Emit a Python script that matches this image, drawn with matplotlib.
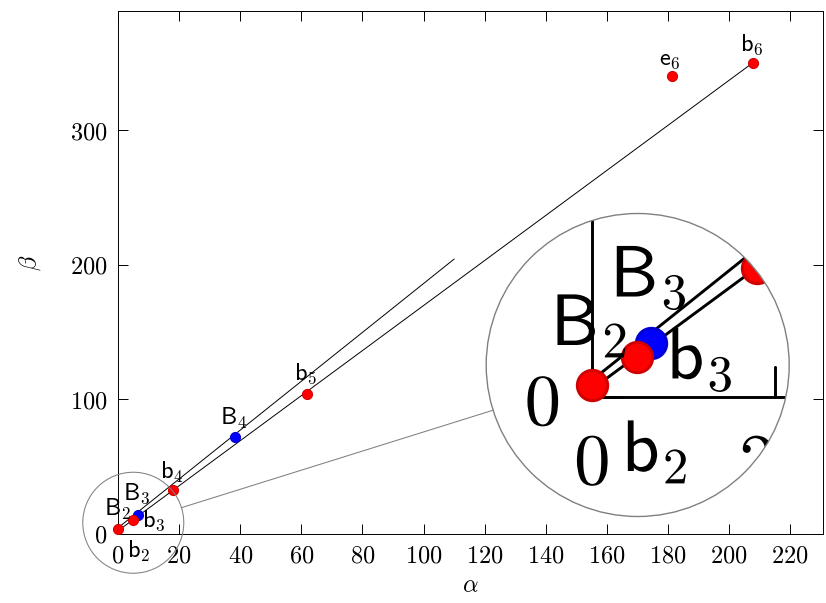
import matplotlib.pyplot as plt
import matplotlib.patheffects as pe
from matplotlib.patches import Circle
from matplotlib.lines import Line2D
from matplotlib.ticker import FuncFormatter

plt.rcParams['mathtext.fontset'] = 'cm'
plt.rcParams['font.family'] = 'serif'
plt.rcParams['font.serif'] = ['DejaVu Serif']

# points
red_x = [0, 4.9, 18, 61.8, 181.3, 207.8]
red_y = [3, 10, 32, 104, 340, 350]
blue_x = [6.4, 38.3]
blue_y = [13.5, 72]

# the two straight lines from the origin point
upper_x = [0, 110]
upper_y = [4.2, 204]
lower_x = [0, 207.8]
lower_y = [2, 350]

# point labels: text, anchor (x, y), offset in px (dx, dy up)
label_text = [r'$\mathsf{B}_2$', r'$\mathsf{b}_2$', r'$\mathsf{B}_3$', r'$\mathsf{b}_3$',
              r'$\mathsf{b}_4$', r'$\mathsf{B}_4$', r'$\mathsf{b}_5$', r'$\mathsf{e}_6$',
              r'$\mathsf{b}_6$']
label_x = [0, 0, 6.4, 4.9, 18, 38.3, 61.8, 181.3, 207.8]
label_y = [3, 3, 13.5, 10, 32, 72, 104, 340, 350]
label_dx = [-1, 21, -0.7, 21, -1.3, -1, -0.7, -1.7, -1.2]
label_dy = [20, -22, 21.8, -0.8, 18.5, 18.7, 20, 16.7, 17.7]

x_ticks = [0, 20, 40, 60, 80, 100, 120, 140, 160, 180, 200, 220]
y_ticks = [0, 100, 200, 300]

W, H, DPI = 826, 603, 100
PX = 72 / DPI  # points per pixel

spy_at = (5, 8)          # data point that gets magnified
spy_r = 50.5             # px
lens_c = (637.7, 365)    # px, from the top
lens_r = 151.5
mag = lens_r / spy_r


def draw(ax, s):
    lw = 0.7 * s
    fs = 17.5 * s
    arts = []
    arts += ax.plot(upper_x, upper_y, color='black', lw=lw, zorder=2)
    arts += ax.plot(lower_x, lower_y, color='black', lw=lw, zorder=2)
    arts += ax.plot(blue_x, blue_y, 'o', ms=7.3 * s, mfc='#0000ff', mec='#0000d0', mew=lw,
                    zorder=3, clip_on=False)
    arts += ax.plot(red_x, red_y, 'o', ms=7.3 * s, mfc='#ff0000', mec='#d00000', mew=lw,
                    zorder=3, clip_on=False)
    for t, x, y, dx, dy in zip(label_text, label_x, label_y, label_dx, label_dy):
        arts.append(ax.annotate(t, (x, y), xytext=(dx * PX * s, dy * PX * s),
                                textcoords='offset points', ha='center', va='center',
                                fontsize=fs, zorder=4))
    ax.set_xlim(0, 230.6)
    ax.set_ylim(0, 388.5)
    ax.set_xticks(x_ticks)
    ax.set_yticks(y_ticks)
    fmt = FuncFormatter(lambda v, p: f'${v:g}$')
    ax.xaxis.set_major_formatter(fmt)
    ax.yaxis.set_major_formatter(fmt)
    ax.tick_params(direction='in', length=7.4 * s, width=lw, pad=7.6 * s, labelsize=fs,
                   top=True, right=True)
    for sp in ax.spines.values():
        sp.set_linewidth(lw)
        arts.append(sp)
    return arts


fig = plt.figure(figsize=(W / DPI, H / DPI), dpi=DPI, facecolor='white')
ax = fig.add_axes([118 / W, 1 - 533.5 / H, (822.5 - 118) / W, (533.5 - 11) / H])
draw(ax, 1)
ax.set_xlabel(r'$\alpha$', fontsize=17.5, va='center')
ax.xaxis.set_label_coords(0.5, -0.1)
ax.set_ylabel(r'$\beta$', fontsize=17.5, va='center')
ax.yaxis.set_label_coords(-0.125, 0.517)

# spy: magnified copy of the region around spy_at
cx, cy = ax.transData.transform(spy_at)
bx, by = lens_c[0], H - lens_c[1]
x0, y0, x1, y1 = 118, H - 533.5, 822.5, H - 11
ix0, ix1 = bx + mag * (x0 - cx), bx + mag * (x1 - cx)
iy0, iy1 = by + mag * (y0 - cy), by + mag * (y1 - cy)

tr = fig.dpi_scale_trans
disk = Circle((bx / DPI, by / DPI), lens_r / DPI, transform=tr, facecolor='white',
              edgecolor='none', zorder=1)
fig.add_artist(disk)

ins = fig.add_axes([ix0 / W, iy0 / H, (ix1 - ix0) / W, (iy1 - iy0) / H], zorder=2)
clip = Circle((bx / DPI, by / DPI), lens_r / DPI, transform=tr)
arts = draw(ins, mag)
arts.append(ins.patch)
for axis in (ins.xaxis, ins.yaxis):
    for tk in axis.get_major_ticks():
        arts += [tk.tick1line, tk.tick2line, tk.label1, tk.label2]
for a in arts:
    a.set_clip_box(None)
    a.set_clip_path(clip)
    a.set_clip_on(True)
    if hasattr(a, 'get_text'):
        a.set_path_effects([pe.Normal()])

# texts of the magnified copy that fall fully outside the lens are hidden
fig.canvas.draw()
rend = fig.canvas.get_renderer()
for a in arts:
    if hasattr(a, 'get_text') and a.get_visible():
        bb = a.get_window_extent(rend)
        nx = min(max(bx, bb.x0), bb.x1)
        ny = min(max(by, bb.y0), bb.y1)
        if (nx - bx) ** 2 + (ny - by) ** 2 > lens_r ** 2:
            a.set_visible(False)

ring = Circle((bx / DPI, by / DPI), lens_r / DPI, transform=tr, fill=False,
              edgecolor='#808080', lw=1.0, zorder=3)
fig.add_artist(ring)
small = Circle((cx / DPI, cy / DPI), spy_r / DPI, transform=tr, fill=False,
               edgecolor='#808080', lw=0.75, zorder=3)
fig.add_artist(small)

dx, dy = bx - cx, by - cy
d = (dx ** 2 + dy ** 2) ** 0.5
ux, uy = dx / d, dy / d
conn = Line2D([(cx + spy_r * ux) / DPI, (bx - lens_r * ux) / DPI],
              [(cy + spy_r * uy) / DPI, (by - lens_r * uy) / DPI],
              transform=tr, color='#808080', lw=0.75, zorder=3)
fig.add_artist(conn)

fig.savefig('out.png', dpi=DPI, facecolor='white')
